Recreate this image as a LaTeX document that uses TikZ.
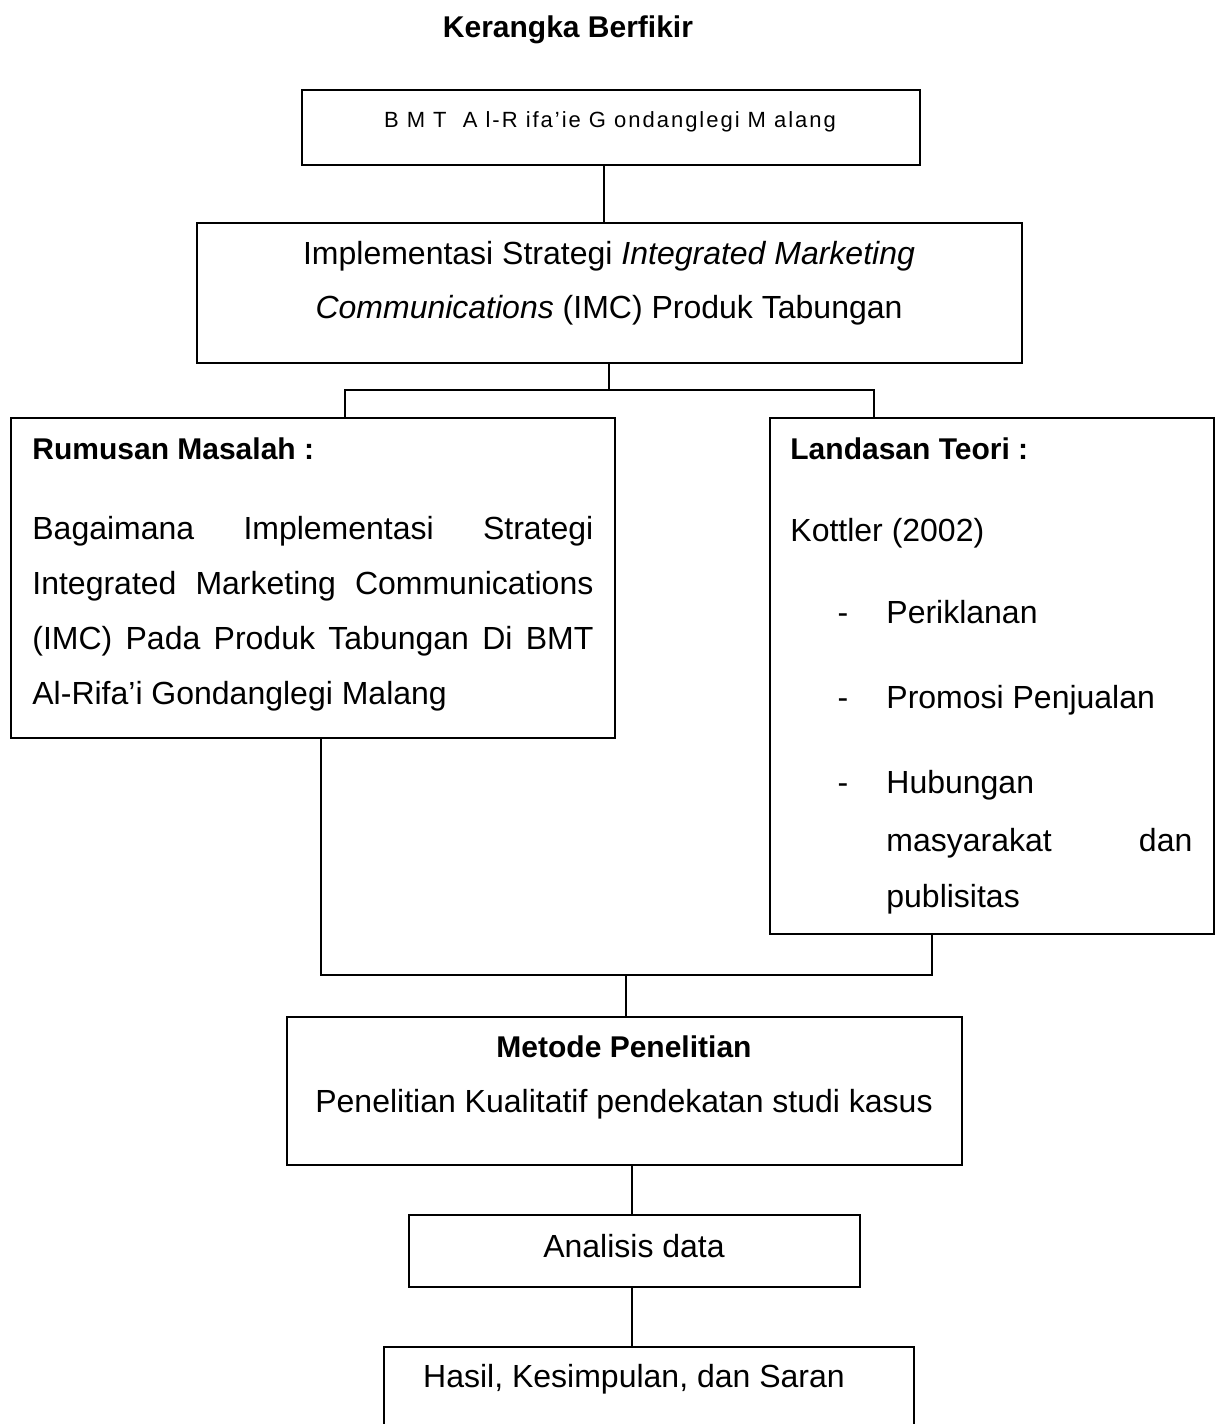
\documentclass[tikz,border=0pt]{standalone}
\usepackage{fontspec}
\setmainfont{Liberation Sans}
\newfontfamily\spacedfont[LetterSpace=9]{Liberation Sans}
\usetikzlibrary{positioning,fit}

\tikzset{
  box/.style={draw, line width=1pt, inner sep=0pt},
  link/.style={line width=0.9pt},
  txt/.style={inner sep=0pt, anchor=base, font=\fontsize{16}{20}\selectfont},
  lefttxt/.style={txt, anchor=base west},
  head/.style={inner sep=0pt, anchor=base west, font=\fontsize{15}{20}\selectfont\bfseries},
}

\begin{document}
\begin{tikzpicture}[x=0.5pt, y=-0.5pt]
  \useasboundingbox (0,0) rectangle (1218,1424);
  \clip (0,0) rectangle (1218,1424);

  % judul
  \node[head, anchor=base] (judul) at (568,38) {Kerangka Berfikir};

  % kotak-kotak
  \node[box, fit={(302,90) (920,165)}] (bmt) {};
  \node[box, fit={(197,223) (1022,363)}] (imc) {};
  \node[box, fit={(11,418) (615,738)}] (rm) {};
  \node[box, fit={(770,418) (1214,934)}] (lt) {};
  \node[box, fit={(287,1017) (962,1165)}] (mp) {};
  \node[box, fit={(409,1215) (860,1287)}] (ad) {};
  \node[box, fit={(384,1347) (914,1460)}] (hs) {};

  % isi kotak
  \node[inner sep=0pt, anchor=base, font=\spacedfont\fontsize{11}{12}\selectfont] (bmttxt) at (610,127)
    {B M T \ A l-R ifa’ie G ondanglegi M alang};
  \node[txt] (imc1) at (609,264) {Implementasi Strategi \textit{Integrated Marketing}};
  \node[txt] (imc2) at (609,318) {\textit{Communications} (IMC) Produk Tabungan};

  \node[head] (rmhead) at (32,459) {Rumusan Masalah :};
  \node[lefttxt] (rm1) at (32,539) {\makebox[280.5pt][s]{Bagaimana Implementasi Strategi}};
  \node[lefttxt] (rm2) at (32,594) {\makebox[280.5pt][s]{Integrated Marketing Communications}};
  \node[lefttxt] (rm3) at (32,649) {\makebox[280.5pt][s]{(IMC) Pada Produk Tabungan Di BMT}};
  \node[lefttxt] (rm4) at (32,704) {Al-Rifa’i Gondanglegi Malang};

  \node[head] (lthead) at (790,459) {Landasan Teori :};
  \node[lefttxt] (kot) at (790,541) {Kottler (2002)};
  \foreach \yy/\name in {623/d1, 708/d2, 793/d3}
    \node[txt] (\name) at (843,\yy) {-};
  \node[lefttxt] (it1) at (886,623) {Periklanan};
  \node[lefttxt] (it2) at (886,708) {Promosi Penjualan};
  \node[lefttxt] (it3a) at (886,793) {Hubungan};
  \node[lefttxt] (it3b) at (886,851) {\makebox[153pt][s]{masyarakat dan}};
  \node[lefttxt] (it3c) at (886,907) {publisitas};

  \node[head, anchor=base] (mphead) at (624,1057) {Metode Penelitian};
  \node[txt] (mptxt) at (624,1112) {Penelitian Kualitatif pendekatan studi kasus};
  \node[txt] (adtxt) at (634,1257) {Analisis data};
  \node[txt] (hstxt) at (634,1387) {Hasil, Kesimpulan, dan Saran};

  % garis penghubung
  \coordinate (split) at (609,390);
  \coordinate (lb) at (345,390);
  \coordinate (rb) at (874,390);
  \coordinate (jl) at (321,975);
  \coordinate (jr) at (932,975);
  \coordinate (jm) at (626,975);
  \draw[link] (bmt.south -| 604,0) -- (imc.north -| 604,0);
  \draw[link] (imc.south -| split) -- (split);
  \draw[link] (rm.north -| lb) -- (lb) -- (rb) -- (lt.north -| rb);
  \draw[link] (rm.south -| jl) -- (jl) -- (jr) -- (lt.south -| jr);
  \draw[link] (jm) -- (mp.north -| jm);
  \draw[link] (mp.south -| 632,0) -- (ad.north -| 632,0);
  \draw[link] (ad.south -| 632,0) -- (hs.north -| 632,0);
\end{tikzpicture}
\end{document}
